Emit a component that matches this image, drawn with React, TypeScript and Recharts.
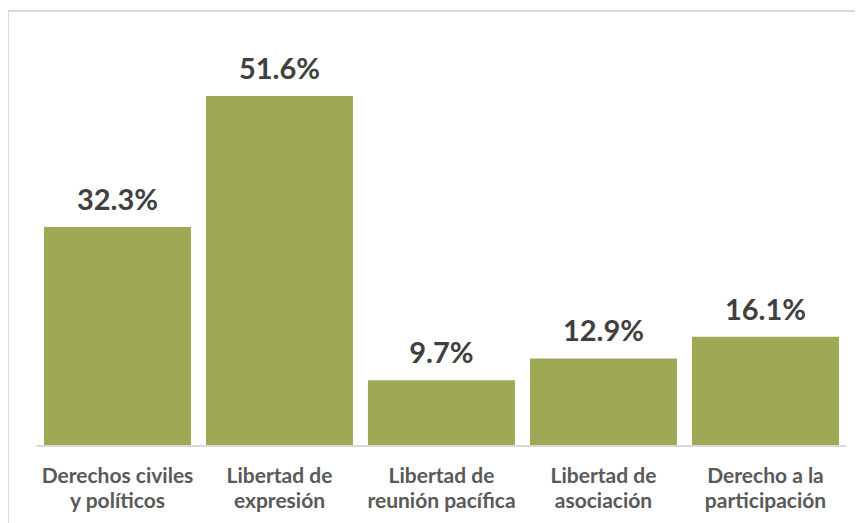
import React from 'react';
import { BarChart, Bar, XAxis, YAxis, LabelList } from 'recharts';

const CATEGORIES = [
  ['Derechos civiles', 'y políticos'],
  ['Libertad de', 'expresión'],
  ['Libertad de', 'reunión pacífica'],
  ['Libertad de', 'asociación'],
  ['Derecho a la', 'participación'],
];
const VALUES = [32.3, 51.6, 9.7, 12.9, 16.1];

const data = CATEGORIES.map((lines, i) => ({ name: lines.join('\n'), value: VALUES[i] }));

const FONT = 'Lato, "Open Sans", sans-serif';

const CategoryTick = (props: any) => {
  const { x, y, payload } = props;
  const lines = String(payload.value).split('\n');
  return (
    <g transform={`translate(${x},${y})`}>
      {lines.map((l, i) => (
        <text key={i} x={0} y={29 + i * 25} textAnchor="middle" fill="#595959"
          fontFamily={FONT} fontWeight={700} fontSize={21}>
          {l}
        </text>
      ))}
    </g>
  );
};

const ValueLabel = (props: any) => {
  const { x, y, width, value } = props;
  return (
    <text x={x + width / 2} y={y - 17} textAnchor="middle" fill="#404040"
      fontFamily={FONT} fontWeight={700} fontSize={29}>
      {`${Number(value).toFixed(1)}%`}
    </text>
  );
};

const App: React.FC = () => {
  return (
    <div style={{ position: 'relative', width: 863, height: 523, marginLeft: -8, marginTop: -8, overflow: 'hidden', background: '#fff' }}>
      <div style={{ position: 'absolute', left: 7, top: 10, width: 900, height: 600, borderLeft: '2px solid #d9d9d9', borderTop: '2px solid #d9d9d9' }} />
      <div style={{ position: 'absolute', left: 0, top: 0 }}>
        <BarChart width={863} height={523} data={data}
          margin={{ top: 39, right: 16.5, bottom: 0, left: 36.5 }} barCategoryGap="4.6%">
          <XAxis dataKey="name" height={77} tickLine={false} interval={0}
            axisLine={{ stroke: '#d9d9d9', strokeWidth: 2 }} tick={<CategoryTick />} />
          <YAxis hide domain={[0, 60]} />
          <Bar dataKey="value" fill="#9ea855" isAnimationActive={false}>
            <LabelList dataKey="value" content={<ValueLabel />} />
          </Bar>
        </BarChart>
      </div>
    </div>
  );
};

export default App;
